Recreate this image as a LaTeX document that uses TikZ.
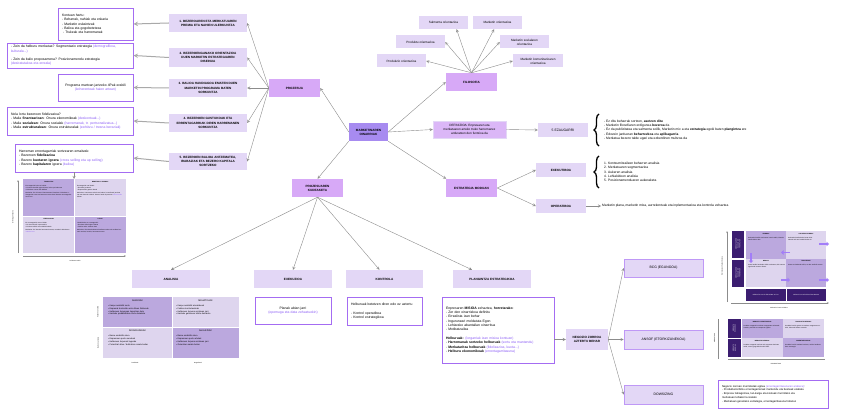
\documentclass[tikz,border=0pt]{standalone}
\usepackage{fontspec}
\setmainfont{Liberation Sans}
\usepackage{tikz}
\usetikzlibrary{positioning,arrows.meta,decorations.pathreplacing}

\definecolor{argia}{HTML}{E3D7F6}
\definecolor{erdia}{HTML}{D7A9F7}
\definecolor{iluna}{HTML}{A78BF0}
\definecolor{ertza}{HTML}{A46CF2}
\definecolor{morea}{HTML}{8B5CF6}
\definecolor{marilun}{HTML}{BBA8DE}
\definecolor{mariarg}{HTML}{DED5EE}
\definecolor{indigo}{HTML}{3B1D70}
\definecolor{lerroa}{HTML}{8C8C8C}

\newcommand{\letra}{\fontsize{3.4}{4.3}\selectfont}
\newcommand{\letrab}{\fontsize{3.1}{4.1}\selectfont\bfseries}
\newcommand{\letratxo}{\fontsize{2.1}{2.9}\selectfont}
\newcommand{\letratxiki}{\fontsize{1.5}{1.95}\selectfont}
\newcommand{\mor}[1]{\textcolor{morea}{#1}}

\begin{document}
\begin{tikzpicture}[x=1pt,y=-1pt,>=stealth,
  every node/.style={font=\letra,inner sep=1pt},
  kutxa/.style={fill=argia,font=\letrab,align=center},
  gunea/.style={fill=erdia,font=\letrab,align=center,minimum width=51pt,minimum height=18pt},
  zuria/.style={draw=ertza,fill=white,line width=0.9pt,align=left,inner xsep=4pt},
  ertzkutxa/.style={fill=argia,draw=ertza!70,line width=0.7pt,font=\letra,minimum width=79pt,minimum height=18pt},
  orient/.style={fill=argia,align=center,font=\fontsize{3.1}{3.8}\selectfont,minimum width=49pt,minimum height=13pt},
  gezi/.style={->,draw=lerroa,line width=0.4pt},
  geziloda/.style={->,draw=lerroa!75,line width=1pt},
  giltza/.style={decorate,decoration={brace,amplitude=5pt},line width=1.3pt},
  gela/.style={font=\letratxiki,align=left,text width=#1,inner sep=0pt,anchor=north west},
  izenb/.style={font=\letratxiki\bfseries,anchor=north,inner sep=0pt},
  ardatz/.style={-{Stealth[length=2pt]},draw=lerroa,line width=0.4pt},
  bgezi/.style={-{Triangle[length=2.5pt,width=4.5pt]},draw=morea!80,line width=1.6pt}]

  \fill[white] (0,0) rectangle (848,417);
  \useasboundingbox (0,0) rectangle (848,417);

  % Erdiko nodoa
  \node[fill=iluna,font=\letrab,align=center,minimum width=39pt,minimum height=18pt] (oinarri) at (368.5,132) {MARKETINAREN\\OINARRIAK};

  % Adar nagusiak
  \node[gunea] (prozesua) at (294.5,88) {PROZESUA};
  \node[gunea] (filosofia) at (471.5,82) {FILOSOFIA};
  \node[gunea] (kudeaketa) at (317.5,188) {PROZESUAREN\\KUDEAKETA};
  \node[gunea] (estrategia) at (471.5,188) {ESTRATEGIA MODUAN};
  \node[fill=erdia!70!argia,draw=argia,align=center,font=\fontsize{3.1}{3.9}\selectfont,minimum width=73pt,minimum height=17pt] (definizioa) at (469.5,129.5) {DEFINIZIOA: Enpresaren eta\\merkatuaren arteko truko harremanez\\arduratzen den funtzioa da};
  \node[kutxa,font=\letra,minimum width=50pt,minimum height=14pt] (ezaugarri) at (563,130) {5 EZAUGARRI};

  \path (oinarri.west) edge[gezi] (prozesua.east);
  \path (oinarri.east) edge[gezi] (filosofia.west);
  \path (oinarri.east) edge[gezi] (definizioa.west);
  \path (oinarri.south west) edge[gezi] (kudeaketa.north);
  \path (oinarri.south east) edge[gezi] (estrategia.160);
  \path (definizioa.east) edge[gezi] (ezaugarri.west);

  % Filosofia: orientazioak
  \node[orient] (salmenta) at (443.5,22.5) {Salmenta orientazioa};
  \node[orient] (marketor) at (497.5,22.5) {Marketin orientazioa};
  \node[orient] (produktu) at (420.5,42) {Produktu orientazioa};
  \node[orient] (soziala) at (524.5,42) {Marketin sozialaren\\orientazioa};
  \node[orient] (produkzio) at (401.5,61) {Produkzio orientazioa};
  \node[orient,minimum width=50pt] (komunit) at (538,61) {Marketin komunitarioaren\\orientazioa};

  \path (filosofia.north) edge[gezi] ([xshift=13pt]salmenta.south);
  \path (filosofia.north) edge[gezi] (marketor);
  \path (filosofia.north) edge[gezi] (produktu.east);
  \path (filosofia.north) edge[gezi] (soziala.west);
  \path (filosofia.north) edge[gezi] (produkzio.east);
  \path (filosofia.north) edge[gezi] (komunit.west);

  % 5 ezaugarriak
  \draw[giltza] (599,146) -- (599,114);
  \node[anchor=west,align=left,font=\fontsize{3.3}{4.4}\selectfont] (ezaugtestua) at (603,130) {- Ez ditu beharrak sortzen, \textbf{asetzen ditu}\\- Marketin filosofiaren erdigunea \textbf{bezeroa} da\\- Ez da publizitatea eta salmenta soilik, Marketin mix a eta \textbf{estrategia} egoki baten \textbf{plangintza} ere\\- Edozein jardueran \textbf{beharrezkoa} eta \textbf{aplikagarria}\\- Merkatua bezero talde ugari eta ezberdinen multzoa da};

  % Estrategia moduan
  \node[kutxa,font=\letrab,minimum width=50pt,minimum height=14pt] (exekutiboa) at (561,170) {EXEKUTIBOA};
  \node[kutxa,font=\letrab,minimum width=50pt,minimum height=14pt] (operatiboa) at (561,206) {OPERATIBOA};
  \path (estrategia.east) edge[gezi] (exekutiboa.west);
  \path (estrategia.east) edge[gezi] (operatiboa.west);
  \draw[giltza] (599,188) -- (599,156);
  \node[anchor=west,align=left,font=\fontsize{3.3}{4.4}\selectfont] (exektestua) at (603,172) {1. Kontsumitzaileen beharren analisia\\2. Merkatuaren segmentazioa\\3. Aukeren analisia\\4. Lehiakideen analisia\\5. Posizionamenduaren aukeraketa};
  \node[anchor=west,font=\fontsize{3.3}{4.4}\selectfont] (optestua) at (601,206) {Marketin plana, marketin mixa, aurrekontuak eta inplementazioa eta kontrola zehaztea};
  \path (operatiboa.east) edge[gezi] (optestua.west);

  % Prozesua: bost urratsak
  \node[kutxa,minimum width=78pt,minimum height=18pt] (b1) at (208,23) {1. BEZEROAREN ETA MERKATUAREN\\PREMIA ETA NAHIEN ULERKUNTZA};
  \node[kutxa,minimum width=78pt,minimum height=19pt] (b2) at (208,57.5) {2. BEZEROENGANAKO ORIENTAZIOA\\DUEN MARKETIN ESTRATEGIAREN\\DISEINUA};
  \node[kutxa,minimum width=78pt,minimum height=18pt] (b3) at (208,88) {3. BALIOA HANDIAGOA EMATEN DUEN\\MARKETIN PROGRAMA BATEN\\SORKUNTZA};
  \node[kutxa,minimum width=78pt,minimum height=18pt] (b4) at (208,123) {4. BEZEROEN GUSTUKOAK ETA\\ERRENTAGARRIAK DIREN HARREMANEN\\SORKUNTZA};
  \node[kutxa,minimum width=78pt,minimum height=17pt] (b5) at (208,161.5) {5. BEZEROEN BALIOA ANTZEMATEA,\\IRABAZIAK ETA BEZERO KAPITALA\\SORTZEKO};

  \path (prozesua.west) edge[gezi] (b1.east);
  \path (prozesua.west) edge[gezi] (b2.east);
  \path (prozesua.west) edge[gezi] (b3.east);
  \path (prozesua.west) edge[gezi] (b4.east);
  \path (prozesua.west) edge[gezi] (b5.east);

  \node[zuria,text width=67pt,minimum height=32pt] (z1) at (95.5,24) {Kontuan hartu:\\- Beharrak, nahiak eta eskaria\\- Marketin eskaintzak\\- Balioa eta gogobetetzea\\\hspace*{1pt}- Trukeak eta harremanak};
  \node[zuria,text width=118pt,minimum height=25pt] (z2) at (70,55.5) {- Zein da helburu merkatua? Segmentazio estrategia \mor{(demografikoa,}\\\mor{kulturala...)}\\[4.3pt]- Zein da balio proposamena? Posizionamendu estrategia\\\mor{(desiratutakoa eta erreala)}};
  \node[zuria,align=center,text width=67pt,minimum height=27pt] (z3) at (95.5,87.5) {Programa martxan jartzeko 4Pak erabili\\\mor{(koherenteak haien artean)}};
  \node[zuria,text width=118pt,minimum height=28pt] (z4) at (70,121) {Nola lortu bezeroen fidelizazioa?\\- Maila \textbf{finantzarioan}: Onura ekonomikoak \mor{(deskontuak...)}\\- Maila \textbf{sozialean}: Onura sozialak \mor{(harremanak, tr. pertsonalizatua...)}\\- Maila \textbf{estrukturalean}: Onura estrukturalak \mor{(zerbitzu / tresna bereziak)}};
  \node[zuria,text width=110pt,minimum height=28pt] (z5) at (74,158) {Harreman errentagarriak sortzearen emaitzak:\\- Bezeroen \textbf{fidelizazioa}\\- Bezero \textbf{kuotaren igoera} \mor{(cross selling eta up selling)}\\- Bezero \textbf{kapitalaren} igoera \mor{(balioa)}};

  \path (b1.west) edge[geziloda] (z1.east);
  \path (b2.west) edge[geziloda] (z2.east);
  \path (b3.west) edge[geziloda] (z3.east);
  \path (b4.west) edge[geziloda] (z4.east);
  \path (b5.west) edge[geziloda] (z5.east);

  % Bezeroen matrizea
  \coordinate (matrizegoi) at (74,179);
  \path (z5.south) edge[gezi] (matrizegoi);
  \fill[marilun] (23,179) rectangle (74.5,216);
  \fill[mariarg] (74.5,179) rectangle (126,216);
  \fill[mariarg] (23,216) rectangle (74.5,253);
  \fill[marilun] (74.5,216) rectangle (126,253);
  \draw[white,line width=0.4pt] (74.5,179) -- (74.5,253) (23,216) -- (126,216);
  \node[izenb] at (48.75,181) {TXIMELETAK};
  \node[gela=46pt] at (25.5,185) {Errentagarriak baina ez leialak:\\ • Erosketa handiak egiten dituzte, baina epe laburrean\\ • Eskaintza onenen bila dabiltza\\[1.5pt] Marketina: Ez da komeni harremanean inbertitzea. Eskaintza erakargarriak eman eta bezeroa erosten duen bitartean errentagarritasuna lortu.};
  \node[izenb] at (100.25,181) {BENETAKO LAGUNAK};
  \node[gela=46pt] at (77,185) {Errentagarriak eta leialak:\\ • Erosketa jarraituak\\ • Enpresarekin gustura daude\\[1.5pt] Marketina: Harremana zaindu eta indartu, komunikazio jarraitua eta tratu berezia eskainiz. Bezero hauek enpresaren \mor{defendatzaile} bihurtu.};
  \node[izenb] at (48.75,218) {EZEZAGUNAK};
  \node[gela=46pt] at (25.5,222) {Ez errentagarriak eta ez leialak:\\ • Ez dute loturarik enpresarekin\\ • Erosketa txikiak eta noizbehinkakoak\\[1.5pt] Marketina: Ez inbertitu harreman honetan; transakzio bakoitzean \mor{irabazia lortu}.};
  \node[izenb] at (100.25,218) {LAPAK};
  \node[gela=46pt] at (77,222) {Leialak baina ez errentagarriak:\\ • Erosketa txikiak egiten dituzte\\ • Zerbitzu asko eskatzen dute\\[1.5pt] Marketina: Erosketa bolumena handitzen saiatu edo zerbitzu kostuak murriztu; bestela, harremana moztu.};
  \draw[ardatz] (18,253) -- (18,180);
  \draw[ardatz] (23,256) -- (126,256);
  \node[font=\letratxiki,rotate=90] at (13,217) {Errentagarritasuna};
  \node[font=\letratxiki] at (75,261) {Leialtasun maila};

  % Prozesuaren kudeaketa
  \node[kutxa,minimum width=78pt,minimum height=18pt] (analisia) at (171,279) {ANALISIA};
  \node[kutxa,minimum width=78pt,minimum height=18pt] (exekuzioa) at (293,279) {EXEKUZIOA};
  \node[kutxa,minimum width=77pt,minimum height=18pt] (kontrola) at (384.5,279) {KONTROLA};
  \node[kutxa,minimum width=78pt,minimum height=18pt] (plangintza) at (492,279) {PLANGINTZA ESTRATEGIKOA};

  \path (kudeaketa.south) edge[gezi] (analisia.north);
  \path (kudeaketa.south) edge[gezi] (exekuzioa.north);
  \path (kudeaketa.south) edge[gezi] ([xshift=-5pt]kontrola.north);
  \path (kudeaketa.south) edge[gezi] ([xshift=-20pt]plangintza.north);

  % DAFO matrizea
  \fill[marilun] (103,297) rectangle (172,327.5);
  \fill[mariarg] (172,297) rectangle (239,327.5);
  \fill[mariarg] (103,327.5) rectangle (172,358);
  \fill[marilun] (172,327.5) rectangle (239,358);
  \draw[white,line width=0.5pt] (172,297) -- (172,358) (103,327.5) -- (239,327.5);
  \node[izenb,font=\fontsize{2.3}{3}\selectfont] at (137.5,299.5) {AUKERAK};
  \node[gela=64pt,font=\letratxo] at (108,304.5) {• Kanpo analisitik sortu\\• Enpresak kontrolatu ezin dituen faktoreak\\• Helburuen lorpenean laguntzen dute\\• Hazteko probabilitatea sortu dezakete};
  \node[izenb,font=\fontsize{2.3}{3}\selectfont] at (205.5,299.5) {MEHATXUAK};
  \node[gela=64pt,font=\letratxo] at (176,304.5) {• Kanpo analisitik ateratakoak\\• Faktore kontrolaezinak\\• Helburuen lorpena arriskuan jarri\\• Hazteko gaitasuna txikitu dezakete};
  \node[izenb,font=\fontsize{2.3}{3}\selectfont] at (137.5,330) {INDARGUNEAK};
  \node[gela=64pt,font=\letratxo] at (108,335) {• Barne analisitik atera\\• Enpresaren puntu sendoak\\• Helburuen lorpenari lagundu\\• Potentzial altua / bultzatzen saiatu behar};
  \node[izenb,font=\fontsize{2.3}{3}\selectfont] at (205.5,330) {AHULEZIAK};
  \node[gela=64pt,font=\letratxo] at (176,335) {• Barne analisitik atera\\• Enpresaren puntu ahulak\\• Helburuen lorpena arriskuan jarri\\• Zuzentzen saiatu behar};
  \node[font=\letratxiki,rotate=90] at (98,312) {Kanpoko analisia};
  \node[font=\letratxiki,rotate=90] at (98,343) {Barneko analisia};
  \node[font=\letratxiki] at (135,363) {Positiboak};
  \node[font=\letratxiki] at (198,363) {Negatiboak};

  % Exekuzioa eta kontrola
  \node[zuria,align=center,text width=68pt,minimum height=27pt] (zexek) at (293,310.5) {Planak abian jarri\\\mor{(epemuga eta data zehaztuekin)}};
  \node[zuria,text width=67pt,minimum height=28pt] (zkontr) at (384.5,311) {Helburuak betetzen diren edo ez aztertu\\[4.3pt]- Kontrol operatiboa\\- Kontrol estrategikoa};
  \node[zuria,text width=104pt,minimum height=66pt] (zplan) at (498,330) {Enpresaren \textbf{MISIOA} zehaztea, \textbf{horretarako}:\\- Zer den oinarrizkoa definitu\\- Errealista izan behar\\- Inguruneari moldatuta Egon\\- Lehiarako abantailan oinarritua\\- Motibatzailea\\[4.3pt]\textbf{Helburuak:} \mor{(lorgarriak izan misioa kontuan)}\\- \textbf{Harremanak sortzeko helburuak} \mor{(sortu eta mantendu)}\\- \textbf{Merkataritza helburuak} \mor{(fidelizazioa, kuota...)}\\- \textbf{Helburu ekonomikoak} \mor{(errentagarritasuna)}};

  % Negozio zorroa
  \node[kutxa,minimum width=42pt,minimum height=21pt] (negozio) at (587,339.5) {NEGOZIO ZORROA\\AZTERTU BEHAR};
  \path (zplan.east |- negozio.west) edge[gezi] (negozio.west);
  \node[ertzkutxa] (bcg) at (663.5,268) {BCG (EGUNGOA)};
  \node[ertzkutxa,minimum height=19pt] (ansof) at (663.5,339.5) {ANSOF (ETORKIZUNEKOA)};
  \node[ertzkutxa,minimum height=19pt] (dowsizing) at (663.5,394.5) {DOWSIZING};
  \path (negozio.east) edge[gezi] (bcg.west);
  \path (negozio.east) edge[gezi] (ansof.west);
  \path (negozio.east) edge[gezi] (dowsizing.west);

  % BCG matrizea
  \fill[indigo] (732,231) rectangle (744,257.5);
  \fill[indigo] (732,259.5) rectangle (744,287);
  \fill[marilun] (746,231) rectangle (786,258.5);
  \fill[mariarg] (786,231) rectangle (826,258.5);
  \fill[mariarg] (746,258.5) rectangle (786,287);
  \fill[marilun] (786,258.5) rectangle (826,287);
  \fill[indigo] (746,289) rectangle (785.5,301);
  \fill[indigo] (786.5,289) rectangle (826,301);
  \node[font=\letratxiki,text=white,align=center,rotate=90] at (738,244) {MERKATUAREN\\HAZKUNDE\\TASA ALTUA};
  \node[font=\letratxiki,text=white,align=center,rotate=90] at (738,273) {MERKATUAREN\\HAZKUNDE\\TASA BAXUA};
  \node[font=\letratxiki,text=white] at (765.75,295) {MERKATU KUOTA ERLATIBO ALTUA};
  \node[font=\letratxiki,text=white] at (806.25,295) {MERKATU KUOTA ERLATIBO BAXUA};
  \node[izenb] at (766,233) {IZARRAK};
  \node[gela=37pt] at (748,237) {Hazkunde handiko merkatuan kuota handia; inbertsio handia behar dute.};
  \node[izenb] at (806,233) {GALDERA IKURRAK};
  \node[gela=37pt] at (788,237) {Hazkunde handia baina kuota txikia.\\Inbertitu edo utzi erabaki behar da.};
  \node[izenb] at (766,260.5) {BEHIAK};
  \node[gela=37pt] at (748,264.5) {Kuota handia hazkunde txikiko merkatuan; diru-sarrera egonkorrak sortzen dituzte.};
  \node[izenb] at (806,260.5) {TXAKURRAK};
  \node[gela=37pt] at (788,264.5) {Kuota eta hazkunde txikia; ez dute etekinik sortzen.};
  \draw[bgezi] (819,244) -- (829,244);
  \draw[bgezi] (790,252.5) -- (781,252.5);
  \draw[bgezi] (751,253) -- (751,263);
  \draw[bgezi] (781,280) -- (790,280);
  \draw[bgezi] (819,280) -- (829,280);
  \draw[ardatz] (727,302) -- (727,231);
  \draw[ardatz] (731,303) -- (829,303);
  \node[font=\letratxiki,rotate=90] at (722,266) {Merkatuaren hazkunde tasa};
  \node[font=\letratxiki] at (779,307.5) {Merkatuko kuota erlatiboa};

  % Ansoff matrizea
  \fill[indigo] (728,319) rectangle (740.5,337.5);
  \fill[indigo] (728,339) rectangle (740.5,357);
  \fill[marilun] (741.5,319) rectangle (783,338);
  \fill[mariarg] (783,319) rectangle (824,338);
  \fill[mariarg] (741.5,338) rectangle (783,357);
  \fill[marilun] (783,338) rectangle (824,357);
  \node[font=\letratxiki,text=white,align=center,rotate=90] at (734.25,328.25) {MERKATU\\EZAGUNAK};
  \node[font=\letratxiki,text=white,align=center,rotate=90] at (734.25,348) {MERKATU\\BERRIAK};
  \node[izenb] at (762.25,321) {MERKATU PENETRAZIOA};
  \node[gela=38pt] at (743.5,325) {Produktu ezagunekin merkatu ezagunetan salmentak handitu; prezioak eta sustapena egokitu.};
  \node[izenb] at (803.5,321) {PRODUKTU BERRIAK};
  \node[gela=38pt] at (785,325) {Produktu berriak garatu eta merkatu ezagunetan eskaini, beharrak hobeto asetzeko.};
  \node[izenb] at (762.25,340) {MERKATU BERRIAK};
  \node[gela=38pt] at (743.5,344) {Produktu ezagunak merkatu edo segmentu berrietan saldu; eremu geografiko berriak bilatu.};
  \node[izenb] at (803.5,340) {DIBERTSIFIKAZIOA};
  \node[gela=38pt] at (785,344) {Produktu berriak merkatu berrietan; arrisku handiena duen estrategia.};
  \draw[lerroa,line width=0.4pt] (718,359) -- (718,319);
  \draw[lerroa,line width=0.4pt] (728,359.5) -- (825,359.5);
  \node[font=\letratxiki,rotate=90] at (714.5,338) {MERKATUAK};
  \node[font=\letratxiki] at (776,364) {PRODUKTUAK};

  % Dowsizing
  \node[zuria,font=\fontsize{2.7}{3.8}\selectfont,text width=102pt,minimum height=28pt] (zdows) at (773,394) {Negozio zorroan murrizketak egitea \mor{(errentagarritasunaren arabera)}:\\- Produktu/zerbitzu errentagarrienak mantendu eta besteak ezabatu\\- Enpresa txikiagotzea, lan-karga eta kostuak murrizteko eta\\merkatuan lehiakorra izateko\\- Merkatuan geratzeko estrategia, errentagarritasuna hobetuz};
\end{tikzpicture}
\end{document}
